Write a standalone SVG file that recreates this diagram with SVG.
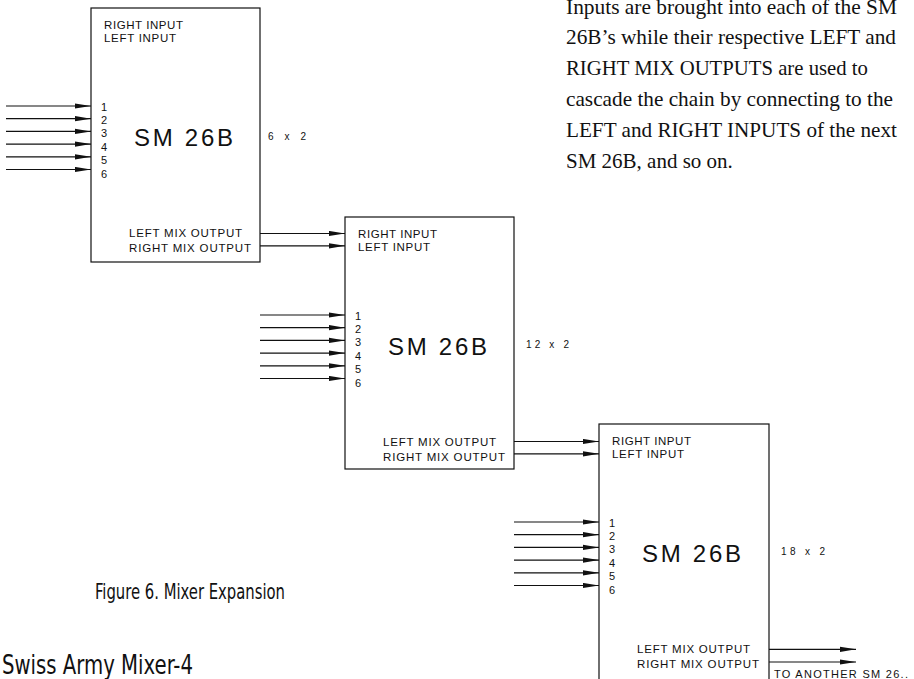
<svg xmlns="http://www.w3.org/2000/svg" width="914" height="679" viewBox="0 0 914 679">
<defs>
<style>
.bx{fill:none;stroke:#111;stroke-width:1.2}
.ln{stroke:#111;stroke-width:1.2;fill:none;marker-end:url(#ah)}
.cad{font-family:"Liberation Sans",Arial,sans-serif;font-size:11.5px;fill:#111}
.num{font-family:"Liberation Sans",Arial,sans-serif;font-size:11px;fill:#111}
.big{font-family:"Liberation Sans",Arial,sans-serif;font-size:24px;fill:#111}
.ser{font-family:"Liberation Serif","Times New Roman",serif;font-size:21px;fill:#111}
.cap{font-family:"DejaVu Sans Condensed","Liberation Sans Narrow","Liberation Sans",sans-serif;font-stretch:condensed;fill:#111}
</style>
<marker id="ah" markerUnits="userSpaceOnUse" markerWidth="16" markerHeight="6" refX="16" refY="3" orient="auto">
<path d="M0,0.4 L16,3 L0,5.6 Z" fill="#111"/>
</marker>
<g id="tpl">
<text class="cad" x="13" y="21" textLength="79" lengthAdjust="spacing">RIGHT INPUT</text>
<text class="cad" x="13" y="34" textLength="72" lengthAdjust="spacing">LEFT INPUT</text>
<text class="num" x="10" y="102.5">1</text>
<text class="num" x="10" y="115.9">2</text>
<text class="num" x="10" y="129.3">3</text>
<text class="num" x="10" y="142.7">4</text>
<text class="num" x="10" y="156.1">5</text>
<text class="num" x="10" y="169.5">6</text>
<text class="big" x="43" y="138" textLength="99" lengthAdjust="spacing">SM 26B</text>
<text class="cad" x="38" y="229" textLength="113" lengthAdjust="spacing">LEFT MIX OUTPUT</text>
<text class="cad" x="38" y="244" textLength="122" lengthAdjust="spacing">RIGHT MIX OUTPUT</text>
</g>
</defs>
<rect width="914" height="679" fill="#fff"/>

<g id="paragraph">
<text class="ser" x="566" y="14" textLength="331" lengthAdjust="spacingAndGlyphs">Inputs are brought into each of the SM</text>
<text class="ser" x="566" y="44" textLength="330" lengthAdjust="spacingAndGlyphs">26B’s while their respective LEFT and</text>
<text class="ser" x="566" y="75" textLength="302" lengthAdjust="spacingAndGlyphs">RIGHT MIX OUTPUTS are used to</text>
<text class="ser" x="566" y="106" textLength="327" lengthAdjust="spacingAndGlyphs">cascade the chain by connecting to the</text>
<text class="ser" x="566" y="137" textLength="331" lengthAdjust="spacingAndGlyphs">LEFT and RIGHT INPUTS of the next</text>
<text class="ser" x="566" y="168">SM 26B, and so on.</text>
</g>

<g id="node1" transform="translate(91,8)">
<rect class="bx" x="0" y="0" width="169" height="254"/>
<use href="#tpl"/>
<text class="num" x="177" y="132" style="font-size:10px" textLength="38" lengthAdjust="spacing">6 x 2</text>
</g>

<g id="node2" transform="translate(345,217)">
<rect class="bx" x="0" y="0" width="169" height="252"/>
<use href="#tpl"/>
<text class="num" x="181" y="131" style="font-size:10px" textLength="43" lengthAdjust="spacing">12 x 2</text>
</g>

<g id="node3" transform="translate(599,424)">
<rect class="bx" x="0" y="0" width="170" height="262"/>
<use href="#tpl"/>
<text class="num" x="182" y="131" style="font-size:10px" textLength="44" lengthAdjust="spacing">18 x 2</text>
</g>

<g id="connectors">
<path class="ln" d="M6,106 H91"/>
<path class="ln" d="M6,118.7 H91"/>
<path class="ln" d="M6,131.4 H91"/>
<path class="ln" d="M6,144.1 H91"/>
<path class="ln" d="M6,156.8 H91"/>
<path class="ln" d="M6,169.5 H91"/>
<path class="ln" d="M260,233.5 H345"/>
<path class="ln" d="M260,245.8 H345"/>
<path class="ln" d="M260,315 H345"/>
<path class="ln" d="M260,327.7 H345"/>
<path class="ln" d="M260,340.4 H345"/>
<path class="ln" d="M260,353.1 H345"/>
<path class="ln" d="M260,365.8 H345"/>
<path class="ln" d="M260,378.5 H345"/>
<path class="ln" d="M514,441.5 H599"/>
<path class="ln" d="M514,453.8 H599"/>
<path class="ln" d="M514,522 H599"/>
<path class="ln" d="M514,534.7 H599"/>
<path class="ln" d="M514,547.4 H599"/>
<path class="ln" d="M514,560.1 H599"/>
<path class="ln" d="M514,572.8 H599"/>
<path class="ln" d="M514,585.5 H599"/>
<path class="ln" d="M769,649.3 H856"/>
<path class="ln" d="M769,662 H856"/>
</g>

<text class="cad" x="774" y="677.5" style="font-size:11px" textLength="134" lengthAdjust="spacing">TO ANOTHER SM 26..</text>
<text class="cap" x="95" y="599" style="font-size:22px" textLength="190" lengthAdjust="spacingAndGlyphs">Figure 6. Mixer Expansion</text>
<text class="cap" x="2" y="674" style="font-size:26px" textLength="191" lengthAdjust="spacingAndGlyphs">Swiss Army Mixer-4</text>
</svg>
